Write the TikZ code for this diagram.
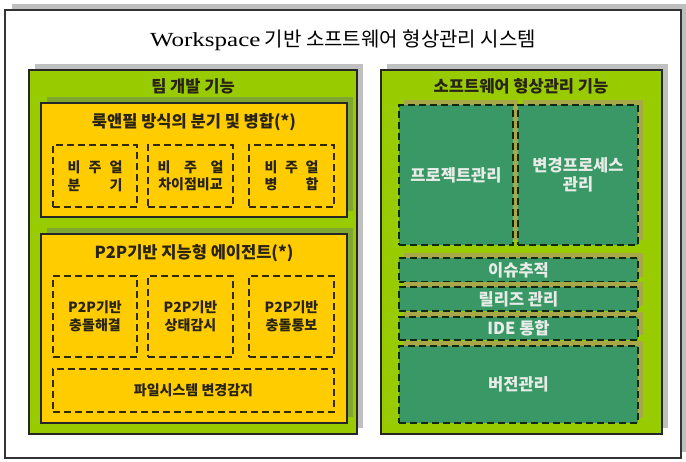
\documentclass[tikz,border=0pt]{standalone}
\usepackage{fontspec}
\newfontfamily\kr{Noto Sans CJK KR}
\newfontfamily\latserif{Liberation Serif}
\usetikzlibrary{shadows}
\definecolor{framesh}{RGB}{190,190,190}
\definecolor{panelgreen}{RGB}{153,204,0}
\definecolor{panelsh}{RGB}{192,192,192}
\definecolor{yel}{RGB}{255,204,0}
\definecolor{yelsh}{RGB}{128,168,48}
\definecolor{tealbox}{RGB}{58,152,102}
\definecolor{olivesh}{RGB}{168,168,72}
\definecolor{gdash}{RGB}{15,40,15}
\definecolor{ydash}{RGB}{50,40,10}
\definecolor{darktext}{RGB}{40,35,20}
\definecolor{lighttext}{RGB}{232,236,232}
\begin{document}
\begin{tikzpicture}[x=1pt,y=-1pt,
  every node/.style={inner sep=0pt, outer sep=0pt},
  frame/.style={draw=black!80, line width=1.6pt, fill=white,
    drop shadow={shadow xshift=7pt, shadow yshift=6pt, opacity=1, fill=framesh}},
  panel/.style={draw=black!85, line width=1.4pt, fill=panelgreen,
    drop shadow={shadow xshift=6pt, shadow yshift=6pt, opacity=1, fill=panelsh}},
  ybox/.style={draw=black!85, line width=1.8pt, fill=yel,
    drop shadow={shadow xshift=6pt, shadow yshift=6pt, opacity=1, fill=yelsh}},
  dbox/.style={draw=ydash, line width=1.8pt, dash pattern=on 7pt off 4pt,
    align=center, text=darktext, font=\kr\bfseries\fontsize{14}{17.5}\selectfont},
  gbox/.style={draw=gdash, line width=1.8pt, dash pattern=on 7pt off 4pt, fill=tealbox,
    drop shadow={shadow xshift=5pt, shadow yshift=5pt, opacity=1, fill=olivesh},
    align=center, text=lighttext, font=\kr\bfseries\fontsize{16.5}{19}\selectfont},
  hdr/.style={text=darktext, font=\kr\bfseries\fontsize{16.5}{18}\selectfont},
  ytitle/.style={text=darktext, font=\kr\bfseries\fontsize{16.5}{18}\selectfont},
  box/.style={anchor=north west}
]
\useasboundingbox (0,0) rectangle (686,461);
% outer frame
\node[frame, box, minimum width=676pt, minimum height=448pt] (outer) at (5,10) {};
\node[font=\kr\fontsize{20}{24}\selectfont, text=black] (title) at (343,40)
  {{\latserif\scalebox{1.25}[1]{Workspace}} 기반 소프트웨어 형상관리 시스템};
% left panel
\node[panel, box, minimum width=328pt, minimum height=364pt] (left) at (29,70) {};
\node[hdr] (lhdr) at (193,86) {팀 개발 기능};
\node[ybox, box, minimum width=306pt, minimum height=114pt] (y1) at (41,103) {};
\node[ytitle] (y1t) at (194,122) {룩앤필 방식의 분기 및 병합(*)};
\node[dbox, box, minimum width=84pt, minimum height=62pt] (v1) at (53,145)
  {\makebox[55pt]{비\hfill 주\hfill 얼}\\\makebox[55pt]{분\hfill 기}};
\node[dbox, box, minimum width=85pt, minimum height=62pt] (v2) at (148,145)
  {\makebox[66pt]{비\hfill 주\hfill 얼}\\\makebox[66pt]{차이점비교}};
\node[dbox, box, minimum width=85pt, minimum height=62pt] (v3) at (249,145)
  {\makebox[54pt]{비\hfill 주\hfill 얼}\\\makebox[54pt]{병\hfill 합}};
\node[ybox, box, minimum width=306pt, minimum height=189pt] (y2) at (41,234) {};
\node[ytitle] (y2t) at (194,253) {P2P기반 지능형 에이전트(*)};
\node[dbox, box, minimum width=84pt, minimum height=81pt] (p1) at (53,276) {P2P기반\\충돌해결};
\node[dbox, box, minimum width=85pt, minimum height=81pt] (p2) at (148,276) {P2P기반\\상태감시};
\node[dbox, box, minimum width=85pt, minimum height=81pt] (p3) at (249,276) {P2P기반\\충돌통보};
\node[dbox, box, minimum width=281pt, minimum height=43pt] (fs) at (53,369) {파일시스템 변경감지};
% right panel
\node[panel, box, minimum width=281pt, minimum height=364pt] (right) at (381,70) {};
\node[hdr] (rhdr) at (521,86) {소프트웨어 형상관리 기능};
\node[gbox, box, minimum width=114pt, minimum height=140pt] (proj) at (399,105) {프로젝트관리};
\node[gbox, box, minimum width=120pt, minimum height=140pt] (chg) at (518,105) {변경프로세스\\관리};
\node[gbox, box, minimum width=239pt, minimum height=24pt] (issue) at (399,258) {이슈추적};
\node[gbox, box, minimum width=239pt, minimum height=24pt] (rel) at (399,287) {릴리즈 관리};
\node[gbox, box, minimum width=239pt, minimum height=23pt] (ide) at (399,317) {IDE 통합};
\node[gbox, box, minimum width=239pt, minimum height=77pt] (ver) at (399,346) {버전관리};
\end{tikzpicture}
\end{document}
